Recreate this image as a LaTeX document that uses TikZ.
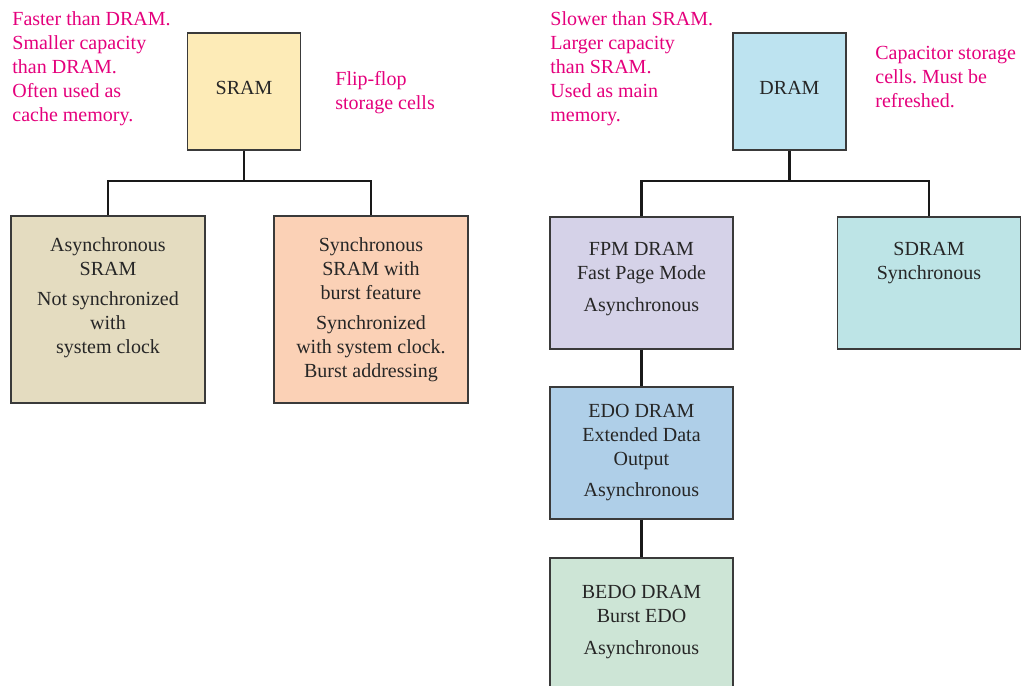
\documentclass[tikz,border=0pt]{standalone}
\usepackage{fontspec}
\setmainfont{Liberation Serif}
\usepackage{xcolor}
\usepackage{tikz}
\usetikzlibrary{positioning, arrows.meta}
\definecolor{notepink}{HTML}{E4007C}
\definecolor{boxline}{HTML}{3A3A3A}
\definecolor{sramfill}{HTML}{FDEBB7}
\definecolor{dramfill}{HTML}{BDE3F0}
\definecolor{asyncfill}{HTML}{E4DCC0}
\definecolor{syncfill}{HTML}{FBD1B6}
\definecolor{fpmfill}{HTML}{D5D2E8}
\definecolor{sdramfill}{HTML}{BDE4E6}
\definecolor{edofill}{HTML}{AFCFE8}
\definecolor{bedofill}{HTML}{CDE5D6}
\frenchspacing

\begin{document}
\begin{tikzpicture}[x=0.5pt, y=-0.5pt, font=\fontsize{10}{12}\selectfont,
    mbox/.style={draw=boxline, line width=0.7pt, rectangle, inner sep=0pt},
    topbox/.style={mbox, minimum width=56.5pt, minimum height=58.5pt, text=black!85},
    bigbox/.style={mbox, minimum width=97pt, minimum height=93.5pt},
    midbox/.style={mbox, minimum width=91.5pt, minimum height=66pt},
    boxtext/.style={anchor=north, align=center, inner sep=0pt, text=black!85, yshift=-11pt},
    toptext/.style={inner sep=0pt, text=black!85},
    note/.style={anchor=north west, align=left, inner sep=0pt, text=notepink},
    conn/.style={line width=1.2pt, black!90, line join=miter}]

  \useasboundingbox (0,0) rectangle (1030,686);

  % SRAM side
  \node[topbox, fill=sramfill] (sram) at (244, 91.5) {};
  \node[toptext] (sram-t) at (244, 88) {SRAM};
  \node[bigbox, fill=asyncfill] (asram) at (108, 309.5) {};
  \node[bigbox, fill=syncfill] (ssram) at (371, 309.5) {};
  \node[boxtext] (asram-t) at (asram.north) {Asynchronous\\SRAM\\[3pt]Not synchronized\\with\\system clock};
  \node[boxtext] (ssram-t) at (ssram.north) {Synchronous\\SRAM with\\burst feature\\[3pt]Synchronized\\with system clock.\\Burst addressing};

  \node[note] (sram-l) at (12, 11) {Faster than DRAM.\\Smaller capacity\\than DRAM.\\Often used as\\cache memory.};
  \node[note] (sram-r) at (335, 71) {Flip-flop\\storage cells};

  \coordinate (sj) at (244, 181);
  \draw[conn] (sram.south) -- (sj);
  \draw[conn] (asram.north) -- (asram.north |- sj) -- (ssram.north |- sj) -- (ssram.north);

  % DRAM side
  \node[topbox, fill=dramfill] (dram) at (789.5, 91.5) {};
  \node[toptext] (dram-t) at (789.5, 88) {DRAM};
  \node[midbox, fill=fpmfill] (fpm) at (641.5, 283) {};
  \node[midbox, fill=sdramfill] (sdram) at (929, 283) {};
  \node[midbox, fill=edofill] (edo) at (641.5, 453) {};
  \node[midbox, fill=bedofill] (bedo) at (641.5, 624) {};
  \node[boxtext, yshift=-2pt] (fpm-t) at (fpm.north) {FPM DRAM\\Fast Page Mode\\[4pt]Asynchronous};
  \node[boxtext, yshift=-2pt] (sdram-t) at (sdram.north) {SDRAM\\Synchronous};
  \node[boxtext, yshift=2pt] (edo-t) at (edo.north) {EDO DRAM\\Extended Data\\Output\\[3.5pt]Asynchronous};
  \node[boxtext, yshift=-3pt] (bedo-t) at (bedo.north) {BEDO DRAM\\Burst EDO\\[4pt]Asynchronous};

  \node[note] (dram-l) at (550, 11) {Slower than SRAM.\\Larger capacity\\than SRAM.\\Used as main\\memory.};
  \node[note] (dram-r) at (875, 46) {Capacitor storage\\cells. Must be\\refreshed.};

  \coordinate (dj) at (789.5, 181);
  \draw[conn] (dram.south) -- (dj);
  \draw[conn] (fpm.north) -- (fpm.north |- dj) -- (sdram.north |- dj) -- (sdram.north);
  \draw[conn] (fpm) -- (edo);
  \draw[conn] (edo) -- (bedo);
\end{tikzpicture}
\end{document}
